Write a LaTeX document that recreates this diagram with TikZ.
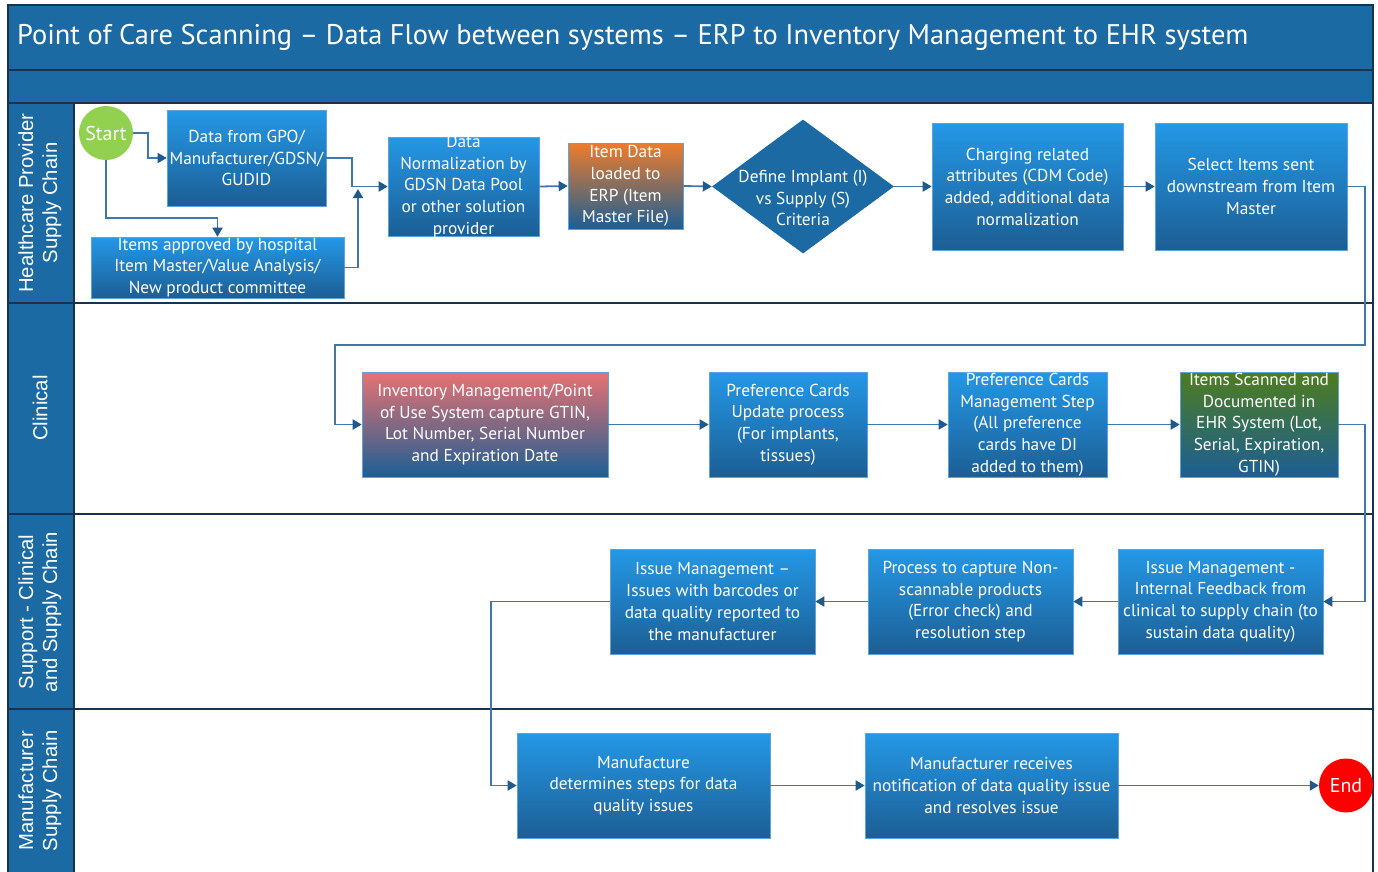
\documentclass[tikz,border=0pt]{standalone}
\usepackage{fontspec}
\setmainfont{PT Sans}
\newfontfamily\lanefont{Liberation Sans}
\usetikzlibrary{arrows.meta,shapes.geometric,calc}

\definecolor{laneblue}{HTML}{1B6AA4}
\definecolor{framenavy}{HTML}{17334F}
\definecolor{boxtop}{HTML}{2498E6}
\definecolor{boxbot}{HTML}{1C5E94}
\definecolor{boxedge}{HTML}{5FA3DC}
\definecolor{flowline}{HTML}{3F78AA}
\definecolor{flowhead}{HTML}{1E5A8C}
\definecolor{erporange}{HTML}{EE7C2C}
\definecolor{invred}{HTML}{E97272}
\definecolor{ehrgreen}{HTML}{4E7D1E}
\definecolor{startgreen}{HTML}{92D050}
\definecolor{endred}{HTML}{FF0000}

\tikzset{
  stepbox/.style={rectangle, draw=boxedge, line width=0.6pt,
    top color=boxtop, bottom color=boxbot, inner sep=0pt},
  boxtext/.style={text=white, align=center, inner sep=0pt,
    font=\fontsize{17.3}{21.7}\selectfont},
  flow/.style={draw=flowline, line width=1.8pt,
    -{Triangle[length=9pt,width=10pt,color=flowhead]}},
  lanelabel/.style={text=white, rotate=90, align=center,
    font=\lanefont\fontsize{20.3}{24}\selectfont},
  framerule/.style={draw=framenavy, line width=2.6pt},
  terminal/.style={circle, inner sep=0pt, minimum size=54pt, text=white,
    font=\fontsize{20}{22}\selectfont},
}

\begin{document}
\begin{tikzpicture}[x=1pt,y=-1pt]
\useasboundingbox (0,0) rectangle (1378,871);
\fill[white] (0,0) rectangle (1378,871);

% title band, sub band and lane heading column
\fill[laneblue] (8,5) rectangle (1373,103);
\fill[laneblue] (8,103) rectangle (74,875);
\node[anchor=west, text=white, inner sep=0pt, font=\fontsize{28.4}{32}\selectfont] (title) at (17,37)
  {Point of Care Scanning – Data Flow between systems – ERP to Inventory Management to EHR system};

% frame and lane separators
\draw[framerule] (8,5) rectangle (1373,880);
\foreach \yy in {70,103,303,514,709} \draw[framerule] (8,\yy) -- (1373,\yy);
\draw[framerule] (74,103) -- (74,880);

% lane headings
\node[lanelabel] (lane1) at (40,203) {Healthcare Provider\\Supply Chain};
\node[lanelabel] (lane2) at (40,408) {Clinical};
\node[lanelabel] (lane3) at (40,612) {Support - Clinical\\and Supply Chain};
\node[lanelabel] (lane4) at (40,791) {Manufacturer\\Supply Chain};

% --- Healthcare Provider Supply Chain ---
\node[terminal, fill=startgreen] (start) at (106,133) {Start};
\node[stepbox, minimum width=159pt, minimum height=96pt] (gpo) at (246.5,158) {};
\node[boxtext] (gpo-t) at (gpo.center) {Data from GPO/\\Manufacturer/GDSN/\\GUDID};
\node[stepbox, minimum width=253pt, minimum height=61pt] (items) at (217.5,267.5) {};
\node[boxtext] (items-t) at (items.center) {Items approved by hospital\\Item Master/Value Analysis/\\New product committee};
\node[stepbox, minimum width=151pt, minimum height=99pt] (dn) at (463.5,186.5) {};
\node[boxtext] (dn-t) at (dn.center) {Data\\Normalization by\\GDSN Data Pool\\or other solution\\provider};
\node[stepbox, top color=erporange, minimum width=115pt, minimum height=86pt] (erp) at (625.5,186) {};
\node[boxtext] (erp-t) at (erp.center) {Item Data\\loaded to\\ERP (Item\\Master File)};
\node[diamond, fill=laneblue, inner sep=0pt, minimum width=182pt, minimum height=134pt] (dia) at (803,186.5) {};
\node[boxtext] (dia-t) at (803,198) {Define Implant (I)\\vs Supply (S)\\Criteria};
\node[stepbox, minimum width=191pt, minimum height=127pt] (chg) at (1027.5,186.5) {};
\node[boxtext] (chg-t) at (chg.center) {Charging related\\attributes (CDM Code)\\added, additional data\\normalization};
\node[stepbox, minimum width=192pt, minimum height=127pt] (sel) at (1251,186.5) {};
\node[boxtext] (sel-t) at (sel.center) {Select Items sent\\downstream from Item\\Master};
\coordinate (merge) at (358,189);

% --- Clinical ---
\node[stepbox, top color=invred, minimum width=246pt, minimum height=105pt] (inv) at (485,424.5) {};
\node[boxtext] (inv-t) at (inv.center) {Inventory Management/Point\\of Use System capture GTIN,\\Lot Number, Serial Number\\and Expiration Date};
\node[stepbox, minimum width=158pt, minimum height=105pt] (pcu) at (788,424.5) {};
\node[boxtext] (pcu-t) at (pcu.center) {Preference Cards\\Update process\\(For implants,\\tissues)};
\node[stepbox, minimum width=159pt, minimum height=105pt] (pcm) at (1027.5,424.5) {};
\node[boxtext] (pcm-t) at (pcm.center) {Preference Cards\\Management Step\\(All preference\\cards have DI\\added to them)};
\node[stepbox, top color=ehrgreen, minimum width=158pt, minimum height=105pt] (scan) at (1259,424.5) {};
\node[boxtext] (scan-t) at (scan.center) {Items Scanned and\\Documented in\\EHR System (Lot,\\Serial, Expiration,\\GTIN)};
\coordinate (railtop) at (1365,345);
\coordinate (railleft) at (335,345);

% --- Support - Clinical and Supply Chain ---
\node[stepbox, minimum width=205pt, minimum height=105pt] (ibar) at (712.5,601.5) {};
\node[boxtext] (ibar-t) at (ibar.center) {Issue Management –\\Issues with barcodes or\\data quality reported to\\the manufacturer};
\node[stepbox, minimum width=205pt, minimum height=105pt] (proc) at (970.5,601.5) {};
\node[boxtext] (proc-t) at (proc.center) {Process to capture Non-\\scannable products\\(Error check) and\\resolution step};
\node[stepbox, minimum width=205pt, minimum height=105pt] (iint) at (1220.5,601.5) {};
\node[boxtext] (iint-t) at (iint.center) {Issue Management -\\Internal Feedback from\\clinical to supply chain (to\\sustain data quality)};

% --- Manufacturer Supply Chain ---
\node[stepbox, minimum width=253pt, minimum height=105pt] (det) at (643.5,785.5) {};
\node[boxtext] (det-t) at (det.center) {Manufacture\\determines steps for data\\quality issues};
\node[stepbox, minimum width=253pt, minimum height=105pt] (rec) at (991.5,785.5) {};
\node[boxtext] (rec-t) at (rec.center) {Manufacturer receives\\notification of data quality issue\\and resolves issue};
\node[terminal, fill=endred] (end) at (1346,785.5) {End};

% --- connectors ---
\draw[flow] (start.east) -- ++(15,0) |- (gpo.west);
\draw[flow] (start.south) |- ([yshift=19pt]items.north) -- (items.north);
\draw[flow] (gpo.east) -- ++(26,0) |- (dn.west);
\draw[flow] (items.east) -| (merge);
\draw[flow] (dn.east) -- (erp.west);
\draw[flow] (erp.east) -- (dia.west);
\draw[flow] (dia.east) -- (chg.west);
\draw[flow] (chg.east) -- (sel.west);
\draw[flow] (sel.east) -| (railtop) -- (railleft) |- (inv.west);
\draw[flow] (inv.east) -- (pcu.west);
\draw[flow] (pcu.east) -- (pcm.west);
\draw[flow] (pcm.east) -- (scan.west);
\draw[flow] (scan.east) -- ++(27,0) |- (iint.east);
\draw[flow] (iint.west) -- (proc.east);
\draw[flow] (proc.west) -- (ibar.east);
\draw[flow] (ibar.west) -- ++(-119,0) |- (det.west);
\draw[flow] (det.east) -- (rec.west);
\draw[flow] (rec.east) -- (end.west);
\end{tikzpicture}
\end{document}
